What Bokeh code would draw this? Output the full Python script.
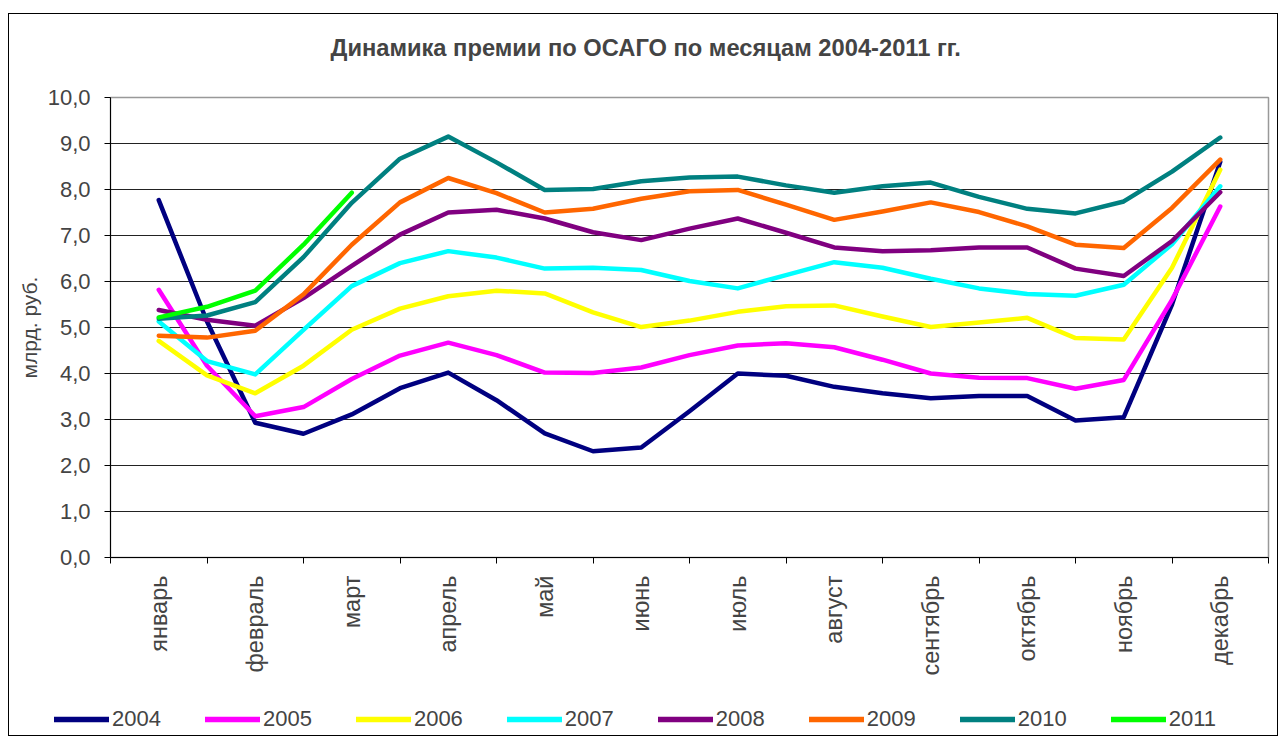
import math
from bokeh.plotting import figure
from bokeh.layouts import column
from bokeh.models import Range1d, FixedTicker, Legend, LegendItem
from bokeh.embed import file_html
from bokeh.resources import INLINE

# ---- data (half-month resolution, млрд. руб.) ----
months = ["январь", "февраль", "март", "апрель", "май", "июнь",
          "июль", "август", "сентябрь", "октябрь", "ноябрь", "декабрь"]
step = 0.5  # readings every half month

y2004 = [7.77, 5.13, 2.93, 2.69, 3.11, 3.68, 4.02, 3.42, 2.70, 2.31, 2.39, 3.18,
         4.00, 3.95, 3.71, 3.57, 3.46, 3.51, 3.51, 2.98, 3.05, 5.50, 8.60]
y2005 = [5.82, 4.17, 3.07, 3.27, 3.88, 4.39, 4.67, 4.40, 4.02, 4.01, 4.13, 4.40,
         4.61, 4.66, 4.57, 4.30, 4.00, 3.91, 3.90, 3.67, 3.86, 5.60, 7.63]
y2006 = [4.71, 3.96, 3.57, 4.17, 4.95, 5.41, 5.68, 5.80, 5.74, 5.33, 5.01, 5.15,
         5.34, 5.46, 5.48, 5.24, 5.01, 5.11, 5.21, 4.77, 4.74, 6.30, 8.43]
y2007 = [5.13, 4.27, 3.98, 4.95, 5.90, 6.40, 6.66, 6.52, 6.28, 6.30, 6.25, 6.01,
         5.85, 6.14, 6.42, 6.30, 6.06, 5.85, 5.73, 5.69, 5.93, 6.81, 8.07]
y2008 = [5.38, 5.17, 5.04, 5.64, 6.34, 7.02, 7.50, 7.56, 7.37, 7.07, 6.90, 7.15,
         7.37, 7.06, 6.74, 6.66, 6.68, 6.74, 6.74, 6.28, 6.12, 6.88, 7.94]
y2009 = [4.82, 4.78, 4.93, 5.72, 6.80, 7.72, 8.25, 7.92, 7.50, 7.58, 7.80, 7.96,
         7.99, 7.67, 7.34, 7.52, 7.72, 7.51, 7.20, 6.80, 6.73, 7.60, 8.65]
y2010 = [5.19, 5.26, 5.55, 6.53, 7.71, 8.67, 9.15, 8.59, 7.99, 8.01, 8.18, 8.26,
         8.28, 8.09, 7.93, 8.07, 8.15, 7.84, 7.58, 7.48, 7.74, 8.39, 9.13]
y2011 = [5.22, 5.45, 5.80, 6.80, 7.93]

years = ["2004", "2005", "2006", "2007", "2008", "2009", "2010", "2011"]
series = [y2004, y2005, y2006, y2007, y2008, y2009, y2010, y2011]
colors = ["#000080", "#FF00FF", "#FFFF00", "#00FFFF", "#800080",
          "#FF6600", "#008080", "#00FF00"]

y_ticks = list(range(0, 11))
y_labels = {t: f"{t},0" for t in y_ticks}

FONT = "Liberation Sans"
LW = 4.5


def strip(height):
    f = figure(width=1268, height=height, output_backend="svg", toolbar_location=None,
               x_range=Range1d(0, 1), y_range=Range1d(100, 101),
               x_axis_location=None, y_axis_location=None,
               min_border_left=0, min_border_right=0, min_border_top=0,
               min_border_bottom=0)
    f.frame_align = False
    f.grid.visible = False
    f.outline_line_color = None
    f.background_fill_color = "white"
    f.border_fill_color = "white"
    return f


# ---- title strip ----
pt = strip(68)
pt.title.text = "Динамика премии по ОСАГО по месяцам 2004-2011 гг."
pt.title.text_font = FONT
pt.title.text_font_size = "23.7px"
pt.title.text_font_style = "bold"
pt.title.align = "left"
pt.title.offset = 321
pt.title.vertical_align = "bottom"
pt.title.standoff = 36

# ---- main chart ----
p = figure(width=1268, height=612, output_backend="svg", toolbar_location=None,
           x_range=Range1d(0.5, 12.5), y_range=Range1d(0, 10),
           min_border_left=101, min_border_right=9, min_border_top=15,
           min_border_bottom=137)
p.frame_align = False
p.background_fill_color = "white"
p.border_fill_color = "white"
p.outline_line_color = "#999999"
p.outline_line_width = 1.5

xt = FixedTicker(ticks=list(range(1, 13)), minor_ticks=[i + 0.5 for i in range(0, 13)])
p.xaxis.ticker = xt
p.xaxis.major_label_overrides = {i + 1: m for i, m in enumerate(months)}
p.xaxis.major_label_orientation = math.pi / 2
p.xaxis.major_tick_out = 0
p.xaxis.major_tick_in = 0
p.xaxis.minor_tick_out = 6
p.xaxis.minor_tick_in = 0
p.xaxis.major_label_standoff = 12
p.xaxis.major_label_text_font = FONT
p.xaxis.major_label_text_font_size = "23.5px"
p.xaxis.axis_line_color = "black"
p.xaxis.minor_tick_line_color = "black"
p.xgrid.grid_line_color = None

p.yaxis.ticker = FixedTicker(ticks=y_ticks)
p.yaxis.major_label_overrides = y_labels
p.yaxis.major_tick_out = 6
p.yaxis.major_tick_in = 0
p.yaxis.minor_tick_line_color = None
p.yaxis.major_label_standoff = 14
p.yaxis.major_label_text_font = FONT
p.yaxis.major_label_text_font_size = "22px"
p.yaxis.axis_label = "млрд. руб."
p.yaxis.axis_label_text_font = FONT
p.yaxis.axis_label_text_font_size = "21px"
p.yaxis.axis_label_text_font_style = "normal"
p.yaxis.axis_label_standoff = 4
p.yaxis.axis_line_color = "black"
p.ygrid.ticker = FixedTicker(ticks=y_ticks[1:-1])
p.ygrid.grid_line_color = "#222222"
p.ygrid.grid_line_width = 1

for ys, c in zip(series, colors):
    xs = [1 + step * i for i in range(len(ys))]
    p.line(xs, ys, line_color=c, line_width=LW, line_join="round", line_cap="round")

# ---- legend strip (same series as proxies, drawn outside its ranges) ----
pl = strip(41)
items = []
for yr, ys, c in zip(years, series, colors):
    xs = [1 + step * i for i in range(len(ys))]
    r = pl.line(xs, ys, line_color=c, line_width=LW + 1, line_cap="round")
    items.append(LegendItem(label=yr, renderers=[r]))

legend = Legend(items=items, orientation="horizontal", location=(45, 3),
                glyph_width=55, glyph_height=16, label_height=16,
                label_standoff=3, spacing=44, padding=2, margin=0,
                border_line_color=None, background_fill_alpha=0,
                label_text_font=FONT, label_text_font_size="22px")
pl.add_layout(legend)

layout = column(pt, p, pl, spacing=0,
                styles={"border": "1px solid black", "margin-left": "8px",
                        "margin-top": "13px"})

open("out.html", "w").write(file_html(layout, INLINE))
